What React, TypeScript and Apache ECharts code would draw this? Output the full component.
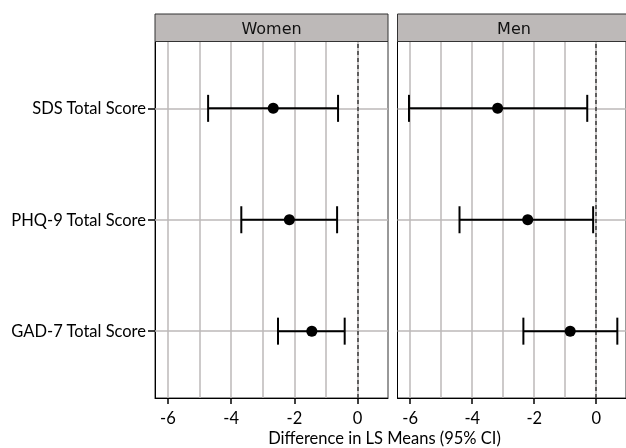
import React, { useEffect, useRef } from 'react';
import * as echarts from 'echarts';

const categories = ['GAD-7 Total Score', 'PHQ-9 Total Score', 'SDS Total Score'];
const positions = [1, 2, 3];
const panels = ['Women', 'Men'];

const womenEst = [-1.45, -2.16, -2.67];
const womenLow = [-2.52, -3.68, -4.73];
const womenHigh = [-0.41, -0.65, -0.62];

const menEst = [-0.84, -2.21, -3.18];
const menLow = [-2.35, -4.41, -6.04];
const menHigh = [0.68, -0.1, -0.29];

const xTicks = [-6, -4, -2, 0];
const xGridLines = [-6, -5, -4, -3, -2, -1, 0];
const xMin = -6.41;
const xMax = 0.96;
const xTitle = 'Difference in LS Means (95% CI)';

const FONT = 'Lato, "Open Sans", sans-serif';
const GRID_GRAY = '#bdb9b9';

export default function App() {
  const ref = useRef<HTMLDivElement>(null);
  useEffect(() => {
    const chart = echarts.init(ref.current!, null, { renderer: 'svg' });
    const panelData = [
      { est: womenEst, low: womenLow, high: womenHigh },
      { est: menEst, low: menLow, high: menHigh },
    ];
    const gridLefts = [155, 397.5];
    const gridW = 233;
    const gridTop = 41.5;
    const gridH = 356.5;

    const grids = gridLefts.map((l) => ({
      left: l,
      top: gridTop,
      width: gridW,
      height: gridH,
      show: true,
      borderColor: '#333',
      borderWidth: 1,
      backgroundColor: 'transparent',
      containLabel: false,
    }));

    const xAxes = panels.map((_, i) => ({
      type: 'value',
      gridIndex: i,
      min: xMin,
      max: xMax,
      axisLine: { show: true, onZero: false, lineStyle: { color: '#000', width: 1 } },
      axisTick: { show: true, customValues: xTicks, length: 6, lineStyle: { color: '#000', width: 1.5 } },
      axisLabel: {
        show: true,
        customValues: xTicks,
        color: '#000',
        fontSize: 16.5,
        fontFamily: FONT,
        margin: 11,
        formatter: (v: number) => String(v),
      },
      splitLine: { show: false },
    }));

    const yAxes = panels.map((_, i) => ({
      type: 'value',
      gridIndex: i,
      min: 0.4,
      max: 3.6,
      axisLine: { show: true, onZero: false, lineStyle: { color: '#000', width: 1 } },
      axisTick: {
        show: i === 0,
        customValues: positions,
        length: 7,
        lineStyle: { color: '#000', width: 1.5 },
      },
      axisLabel: {
        show: i === 0,
        customValues: positions,
        color: '#000',
        fontSize: 16.5,
        fontFamily: FONT,
        margin: 9,
        formatter: (v: number) => categories[positions.indexOf(v)] ?? '',
      },
      splitLine: { show: false },
    }));

    const series: any[] = [];
    panelData.forEach((pd, i) => {
      series.push({
        type: 'custom',
        xAxisIndex: i,
        yAxisIndex: i,
        z: 10,
        silent: true,
        data: categories.map((_, k) => [pd.low[k], pd.high[k], positions[k]]),
        encode: { x: [0, 1], y: 2 },
        renderItem: (params: any, api: any) => {
          const lo = api.value(0);
          const hi = api.value(1);
          const y = api.value(2);
          const p1 = api.coord([lo, y]);
          const p2 = api.coord([hi, y]);
          const h = 13.5;
          const style = { stroke: '#000', lineWidth: 2, fill: 'none' };
          return {
            type: 'group',
            children: [
              { type: 'line', shape: { x1: p1[0], y1: p1[1], x2: p2[0], y2: p2[1] }, style },
              { type: 'line', shape: { x1: p1[0], y1: p1[1] - h, x2: p1[0], y2: p1[1] + h }, style },
              { type: 'line', shape: { x1: p2[0], y1: p2[1] - h, x2: p2[0], y2: p2[1] + h }, style },
            ],
          };
        },
        markLine: {
          silent: true,
          symbol: ['none', 'none'],
          label: { show: false },
          animation: false,
          emphasis: { disabled: true },
          data: [
            ...xGridLines.map((v) => ({ xAxis: v, lineStyle: { color: GRID_GRAY, width: 1.5, type: 'solid' } })),
            ...positions.map((v) => ({ yAxis: v, lineStyle: { color: GRID_GRAY, width: 1.5, type: 'solid' } })),
            { xAxis: 0, lineStyle: { color: '#444', width: 1.6, type: [4, 3] } },
          ],
        },
      });
      series.push({
        type: 'scatter',
        xAxisIndex: i,
        yAxisIndex: i,
        z: 12,
        silent: true,
        symbol: 'circle',
        symbolSize: 11,
        itemStyle: { color: '#000', opacity: 1 },
        data: categories.map((_, k) => [pd.est[k], positions[k]]),
      });
    });

    const graphics: any[] = [];
    panels.forEach((name, i) => {
      graphics.push({
        type: 'rect',
        shape: { x: gridLefts[i], y: 14, width: gridW, height: gridTop - 14 },
        style: { fill: '#bdb9b8', stroke: '#333', lineWidth: 1 },
        z: 20,
      });
      graphics.push({
        type: 'text',
        x: gridLefts[i] + gridW / 2,
        y: 28,
        style: {
          text: name,
          fontSize: 16,
          fontFamily: '"DejaVu Sans", sans-serif',
          fill: '#111',
          align: 'center',
          verticalAlign: 'middle',
        },
        z: 21,
      });
    });
    graphics.push({
      type: 'text',
      x: 384.5,
      y: 438,
      style: {
        text: xTitle,
        fontSize: 16.5,
        fontFamily: FONT,
        fill: '#000',
        align: 'center',
        verticalAlign: 'middle',
      },
      z: 21,
    });

    chart.setOption({
      animation: false,
      grid: grids,
      xAxis: xAxes,
      yAxis: yAxes,
      series,
      graphic: graphics,
    });
    return () => chart.dispose();
  }, []);
  return <div ref={ref} style={{ position: 'fixed', left: 0, top: 0, width: 626, height: 448 }} />;
}
